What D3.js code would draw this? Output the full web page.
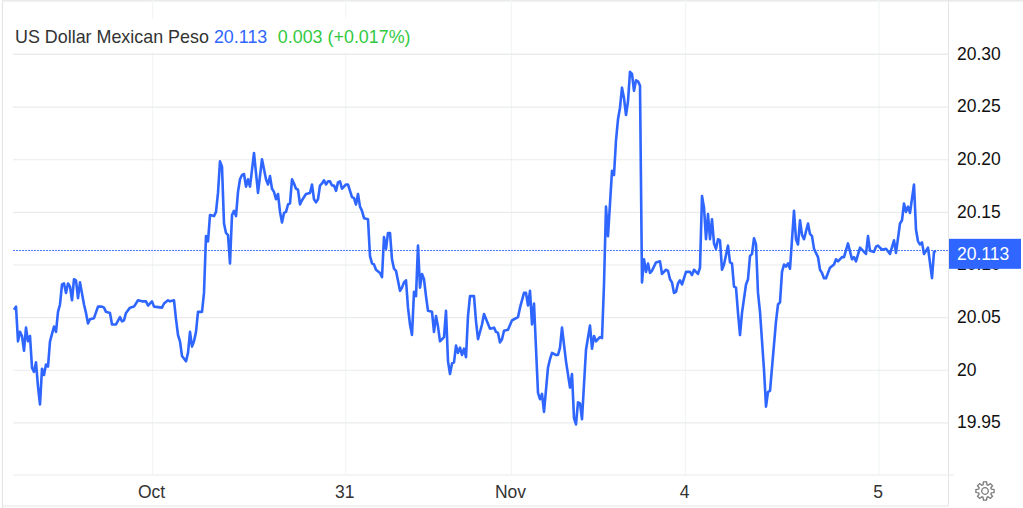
<!DOCTYPE html>
<html>
<head>
<meta charset="utf-8">
<script src="https://cdn.jsdelivr.net/npm/d3@7/dist/d3.min.js"></script>
<style>
html,body{margin:0;padding:0;background:#fff;overflow:hidden}
svg{display:block}
text{font-family:"Liberation Sans",Arial,sans-serif}
</style>
</head>
<body>
<svg id="chart" width="1023" height="508"></svg>
<script>
const titleName = "US Dollar Mexican Peso";
const lastPrice = 20.113;
const priceLabel = "20.113";
const changeLabel = "0.003 (+0.017%)";
const yTicks = [19.95, 20, 20.05, 20.10, 20.15, 20.20, 20.25, 20.30];
const xTickBars = [69, 165.6, 248.5, 335.5, 432.3];
const xTickLabels = ["Oct", "31", "Nov", "4", "5"];

// 15-minute bar number of each point
const bars = [0,1,2,3,4,5,6,7,8,9,10,11,12,13,14,15,16,17,18,20,21,22,23,24,25,26,27,28,29,30,31,32,33,35,36,37,38,40,42,44,45,46,48,49,51,53,54,55,56,58,
60,62,64,66,67,69,70,74,75,77,78,80,81,82,83,84,86,87,88,89,90,91,92,94,95,96,97,98,100,101,102,103,104,105,106,107,108,109,110,111,112,113,114,115,116,117,118,120,122,124,126,
127,128,129,130,131,132,133,134,135,136,137,138,139,140,141,142,143,144,146,148,149,150,151,152,153,154,155,156,157,158,159,160,161,162,163,164,166,167,168,169,170,171,172,173,174,175,177,178,179,180,181,183,
184,185,186,187,188,189,190,191,193,194,195,196,197,198,199,200,201,202,203,204,205,206,207,209,210,211,212,213,215,216,217,218,219,220,221,222,223,224,225,226,227,228,230,231,232,234,235,238,240,241,242,243,244,245,247,249,250,252,253,255,256,257,258,259,260,
262,263,264,265,267,268,269,271,272,273,274,276,278,279,280,281,282,283,284,286,288,289,290,291,292,293,294,295,296,297,299,300,301,302,303,304,305,306,307,308,309,310,311,312,313,
314,315,316,317,318,319,321,323,324,326,327,328,329,330,331,332,333,334,336,338,339,340,342,343,344,345,346,347,348,349,350,351,352,353,354,355,357,358,359,360,361,362,363,364,366,367,368,369,370,371,372,373,375,376,377,378,381,382,383,384,385,386,387,388,390,391,392,393,394,395,397,398,399,400,
402,403,404,405,406,408,410,411,412,414,415,417,419,420,421,423,426,427,428,430,431,432,434,436,438,440,441,443,444,445,446,447,448,450,451,452,453,454,455,457,459,460,461];

// USD/MXN quote at each of those bars
const quotes = [20.057,20.060,20.027,20.036,20.032,20.018,20.040,20.027,20.032,20.002,19.998,20.007,19.984,19.967,20.001,19.995,20.005,20.003,20.027,20.041,20.036,20.055,20.062,20.081,20.082,20.073,20.082,20.079,20.066,20.086,20.085,20.068,20.083,20.062,20.054,20.044,20.048,20.049,20.060,20.060,20.059,20.055,20.054,20.043,20.043,20.050,20.046,20.047,20.054,20.059,
20.060,20.066,20.065,20.065,20.061,20.065,20.060,20.059,20.063,20.066,20.065,20.066,20.048,20.033,20.027,20.013,20.008,20.016,20.036,20.022,20.027,20.036,20.055,20.055,20.073,20.127,20.122,20.147,20.146,20.150,20.168,20.198,20.193,20.139,20.130,20.128,20.101,20.147,20.151,20.146,20.169,20.181,20.185,20.186,20.174,20.181,20.174,20.206,20.168,20.200,20.181,
20.176,20.184,20.172,20.169,20.162,20.167,20.150,20.140,20.149,20.150,20.157,20.158,20.181,20.177,20.172,20.171,20.157,20.161,20.167,20.168,20.176,20.162,20.159,20.162,20.175,20.177,20.180,20.176,20.179,20.179,20.175,20.175,20.170,20.178,20.179,20.172,20.176,20.176,20.170,20.164,20.163,20.157,20.167,20.155,20.151,20.144,20.143,20.108,20.101,20.100,20.095,20.092,
20.088,20.126,20.115,20.130,20.130,20.105,20.096,20.094,20.075,20.078,20.083,20.085,20.059,20.043,20.033,20.074,20.070,20.118,20.078,20.091,20.086,20.070,20.056,20.055,20.036,20.051,20.041,20.027,20.031,20.056,20.008,19.996,20.006,20.007,20.023,20.016,20.021,20.014,20.020,20.012,20.051,20.070,20.070,20.046,20.029,20.043,20.053,20.039,20.040,20.036,20.035,20.026,20.029,20.037,20.038,20.047,20.048,20.050,20.059,20.073,20.073,20.061,20.075,20.043,20.063,
19.978,19.972,19.977,19.960,20.002,20.010,20.016,20.014,20.014,20.021,20.040,20.008,19.983,19.996,19.954,19.948,19.969,19.968,19.953,20.019,20.042,20.020,20.032,20.027,20.029,20.031,20.030,20.081,20.155,20.127,20.189,20.185,20.218,20.238,20.249,20.268,20.258,20.242,20.255,20.283,20.281,20.265,20.275,20.274,20.270,
20.083,20.105,20.093,20.101,20.092,20.094,20.102,20.103,20.091,20.095,20.094,20.086,20.083,20.073,20.074,20.082,20.085,20.081,20.093,20.093,20.090,20.095,20.091,20.097,20.165,20.154,20.124,20.148,20.124,20.143,20.120,20.115,20.124,20.123,20.095,20.100,20.118,20.102,20.101,20.079,20.078,20.054,20.033,20.054,20.081,20.086,20.108,20.110,20.125,20.119,20.073,20.055,20.000,19.965,19.979,19.980,20.046,20.062,20.064,20.093,20.100,20.098,20.101,20.096,20.151,20.124,20.119,20.142,20.128,20.124,20.139,20.129,20.127,20.115,
20.107,20.095,20.092,20.087,20.087,20.097,20.100,20.105,20.103,20.107,20.107,20.120,20.105,20.107,20.103,20.116,20.110,20.127,20.113,20.112,20.117,20.118,20.114,20.115,20.110,20.123,20.111,20.139,20.142,20.158,20.150,20.155,20.149,20.176,20.133,20.122,20.119,20.121,20.110,20.116,20.087,20.112,20.113];

const BLUE = "#2e66ff", GREEN = "#33c93f", GRID = "#e9ebec", VGRID = "#f1f5f7", FRAME = "#e3e5e6";
const plotLeft = 13, plotRight = 948, plotTop = 54, plotBottom = 475;

const svg = d3.select("#chart");
const x = d3.scaleLinear().domain([0, 461]).range([14, 936]);
const y = d3.scaleLinear().domain([19.90, 20.30]).range([plotBottom, plotTop]);

// frame
svg.append("path").attr("fill", "none").attr("stroke", FRAME).attr("stroke-width", 1.2)
  .attr("d", "M2.5,508V0.8H1023M2.5,506H948");
svg.append("line").attr("x1", plotRight + .5).attr("x2", plotRight + .5).attr("y1", 0).attr("y2", 506)
  .attr("stroke", FRAME).attr("stroke-width", 1);

// x axis with vertical grid
const xAxis = svg.append("g").attr("transform", `translate(0,${plotBottom})`)
  .call(d3.axisBottom(x).tickValues(xTickBars).tickSize(-plotBottom)
    .tickFormat((d, i) => xTickLabels[i]));
xAxis.select(".domain").remove();
xAxis.selectAll("line").attr("stroke", VGRID).attr("stroke-width", 1.2);
xAxis.selectAll("text").attr("y", 17).attr("dx", -1).attr("dy", "0.36em").attr("fill", "#333")
  .attr("font-size", 17.5).style("font-family", '"Liberation Sans",Arial,sans-serif');

// y axis with horizontal grid
const yAxis = svg.append("g").attr("transform", `translate(${plotRight},0)`)
  .call(d3.axisRight(y).tickValues(yTicks).tickSize(-(plotRight - plotLeft))
    .tickFormat(d => Math.abs(d - 20) < 1e-9 ? "20" : d3.format(".2f")(d)));
yAxis.select(".domain").remove();
yAxis.selectAll("line").attr("stroke", GRID).attr("stroke-width", 1.1);
yAxis.selectAll("text").attr("x", 9).attr("dy", "0.3em").attr("fill", "#111")
  .attr("font-size", 17.5).style("font-family", '"Liberation Sans",Arial,sans-serif');
svg.append("line").attr("x1", plotLeft).attr("x2", plotRight + 6).attr("y1", y(19.90)).attr("y2", y(19.90))
  .attr("stroke", GRID).attr("stroke-width", 1.1);

// white mask behind the title
svg.append("rect").attr("x", 12).attr("y", 19).attr("width", 405).attr("height", 33).attr("fill", "#fff");
svg.append("line").attr("x1", plotLeft).attr("x2", plotRight).attr("y1", plotTop).attr("y2", plotTop)
  .attr("stroke", GRID).attr("stroke-width", 1.1);

// last price line
const lastY = Math.floor(y(lastPrice)) + .5;
svg.append("line").attr("x1", plotLeft).attr("x2", plotRight).attr("y1", lastY).attr("y2", lastY)
  .attr("stroke", "#4d7dff").attr("stroke-width", 1).attr("stroke-dasharray", "2 1");

// series
const line = d3.line().x((d, i) => x(bars[i])).y(d => y(d)).curve(d3.curveLinear);
svg.append("path").datum(quotes).attr("fill", "none").attr("stroke", BLUE)
  .attr("stroke-width", 2.6).attr("stroke-linejoin", "round").attr("d", line);

// last price tag
svg.append("rect").attr("x", plotRight + 1).attr("y", y(lastPrice) - 12).attr("width", 72).attr("height", 30)
  .attr("fill", BLUE);
svg.append("text").attr("x", 957).attr("y", y(lastPrice) + 3).attr("dy", "0.36em").attr("fill", "#fff")
  .attr("font-size", 17.5).text(priceLabel);

// title
const title = svg.append("text").attr("x", 15).attr("y", 43).attr("font-size", 17.9);
title.append("tspan").attr("fill", "#333").text(titleName);
title.append("tspan").attr("fill", BLUE).attr("dx", 5).text(priceLabel);
title.append("tspan").attr("fill", GREEN).attr("dx", 10.5).text(changeLabel);

// settings gear
const gearCx = 985, gearCy = 491, teeth = 8;
const gearRadial = d3.lineRadial().curve(d3.curveLinearClosed);
const gearPts = [];
for (let i = 0; i < teeth; i++) {
  const a = i * 2 * Math.PI / teeth;
  gearPts.push([a - .30, 6.6], [a - .17, 9.2], [a + .17, 9.2], [a + .30, 6.6]);
}
const gear = svg.append("g").attr("transform", `translate(${gearCx},${gearCy})`)
  .attr("fill", "none").attr("stroke", "#7b7b7b").attr("stroke-width", 1.3);
gear.append("path").attr("d", gearRadial(gearPts));
gear.append("circle").attr("r", 3.3);
</script>
</body>
</html>
